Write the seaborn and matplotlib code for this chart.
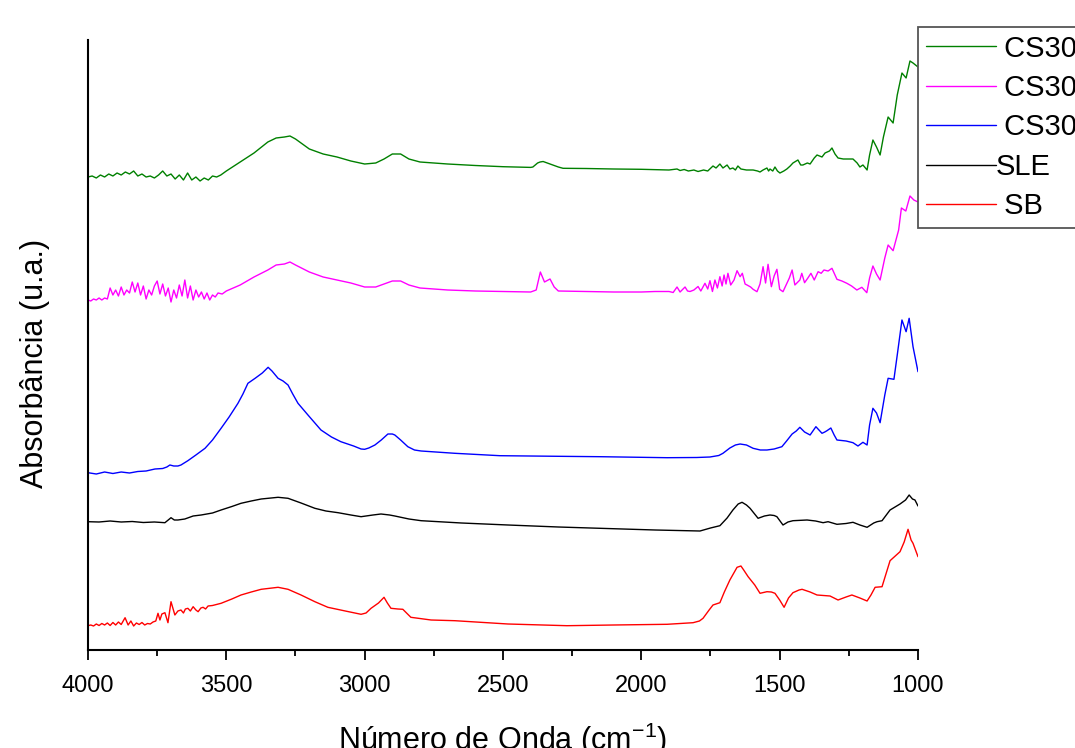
import numpy as np
import pandas as pd
import matplotlib
matplotlib.use("Agg")
import matplotlib.pyplot as plt
from matplotlib.lines import Line2D
import seaborn as sns

# ---------------- data (wavenumber in cm-1, absorbance in a.u.) ----------------
labels = [" CS30 A", " CS30 B", " CS30 C", "SLE", " SB"]
colors = ["#008000", "#FF00FF", "#0000FF", "#000000", "#FF0000"]

w_cs30a = [4000, 3985, 3970, 3955, 3940, 3925, 3910, 3895, 3880, 3865, 3850, 3835, 3820, 3805,
           3790, 3775, 3760, 3745, 3730, 3715, 3700, 3685, 3670, 3655, 3640, 3625, 3610, 3595,
           3580, 3565, 3550, 3535, 3520, 3500, 3450, 3400, 3350, 3320, 3290, 3270, 3250, 3200,
           3150, 3100, 3050, 3000, 2960, 2930, 2900, 2870, 2840, 2800, 2700, 2600, 2500, 2450,
           2400, 2392, 2375, 2366, 2355, 2340, 2330, 2300, 2283, 2200, 2100, 2000, 1900, 1871,
           1860, 1845, 1830, 1810, 1795, 1775, 1760, 1741, 1730, 1716, 1705, 1690, 1680, 1669,
           1660, 1651, 1640, 1620, 1596, 1580, 1571, 1560, 1546, 1540, 1535, 1525, 1517, 1508,
           1499, 1485, 1474, 1462, 1452, 1434, 1424, 1416, 1400, 1390, 1375, 1365, 1347, 1336,
           1320, 1311, 1300, 1289, 1270, 1250, 1235, 1220, 1210, 1199, 1184, 1175, 1163, 1150,
           1137, 1125, 1108, 1090, 1075, 1058, 1043, 1029, 1018, 1000]
a_cs30a = [4.73, 4.74, 4.72, 4.75, 4.73, 4.76, 4.74, 4.77, 4.75, 4.78, 4.76, 4.79, 4.74, 4.76,
           4.73, 4.74, 4.72, 4.75, 4.79, 4.74, 4.76, 4.71, 4.75, 4.70, 4.77, 4.70, 4.73, 4.69,
           4.72, 4.70, 4.74, 4.73, 4.75, 4.79, 4.88, 4.97, 5.08, 5.12, 5.13, 5.14, 5.11, 5.01,
           4.96, 4.93, 4.89, 4.86, 4.87, 4.91, 4.96, 4.96, 4.91, 4.88, 4.86, 4.845, 4.833, 4.83,
           4.826, 4.83, 4.87, 4.88, 4.885, 4.87, 4.86, 4.83, 4.817, 4.815, 4.81, 4.807, 4.80, 4.81,
           4.795, 4.805, 4.79, 4.80, 4.785, 4.80, 4.79, 4.84, 4.82, 4.86, 4.82, 4.85, 4.81, 4.82,
           4.80, 4.84, 4.81, 4.80, 4.80, 4.79, 4.78, 4.80, 4.82, 4.79, 4.81, 4.79, 4.83, 4.79,
           4.77, 4.79, 4.81, 4.84, 4.87, 4.90, 4.85, 4.85, 4.87, 4.86, 4.92, 4.95, 4.93, 4.97,
           4.99, 5.02, 4.96, 4.92, 4.91, 4.91, 4.91, 4.87, 4.83, 4.85, 4.80, 4.95, 5.10, 5.03,
           4.95, 5.13, 5.33, 5.27, 5.55, 5.77, 5.72, 5.89, 5.87, 5.83]

w_cs30b = [4000, 3990, 3980, 3970, 3960, 3950, 3940, 3930, 3920, 3910, 3900, 3890, 3880, 3870,
           3860, 3850, 3840, 3830, 3820, 3810, 3800, 3790, 3780, 3770, 3760, 3750, 3740, 3730,
           3720, 3710, 3700, 3690, 3680, 3670, 3660, 3650, 3640, 3630, 3620, 3610, 3600, 3590,
           3580, 3570, 3560, 3550, 3540, 3530, 3515, 3500, 3450, 3400, 3350, 3320, 3290, 3270,
           3250, 3200, 3150, 3100, 3050, 3000, 2960, 2930, 2900, 2870, 2840, 2800, 2700, 2600,
           2500, 2400, 2380, 2365, 2350, 2330, 2315, 2300, 2200, 2100, 2000, 1950, 1900, 1885,
           1871, 1860, 1842, 1833, 1824, 1810, 1795, 1785, 1770, 1760, 1752, 1743, 1734, 1725,
           1716, 1708, 1701, 1694, 1687, 1677, 1665, 1654, 1643, 1635, 1625, 1618, 1605, 1596,
           1582, 1571, 1560, 1551, 1542, 1530, 1520, 1510, 1500, 1488, 1475, 1465, 1455, 1445,
           1427, 1420, 1410, 1398, 1387, 1375, 1361, 1350, 1340, 1325, 1311, 1293, 1275, 1257,
           1240, 1221, 1203, 1185, 1175, 1163, 1150, 1137, 1120, 1108, 1090, 1070, 1060, 1044,
           1029, 1015, 1000]
a_cs30b = [3.50, 3.49, 3.51, 3.50, 3.52, 3.50, 3.52, 3.51, 3.62, 3.55, 3.60, 3.54, 3.63, 3.55,
           3.60, 3.57, 3.68, 3.58, 3.67, 3.55, 3.64, 3.51, 3.60, 3.55, 3.64, 3.69, 3.56, 3.66,
           3.54, 3.62, 3.48, 3.60, 3.52, 3.65, 3.54, 3.70, 3.52, 3.64, 3.50, 3.60, 3.53, 3.58,
           3.51, 3.57, 3.50, 3.55, 3.53, 3.57, 3.56, 3.59, 3.65, 3.73, 3.80, 3.85, 3.86, 3.88,
           3.85, 3.78, 3.73, 3.70, 3.67, 3.63, 3.63, 3.66, 3.69, 3.69, 3.65, 3.62, 3.60, 3.59,
           3.585, 3.58, 3.60, 3.78, 3.68, 3.71, 3.63, 3.59, 3.585, 3.58, 3.58, 3.585, 3.585, 3.575,
           3.63, 3.58, 3.63, 3.59, 3.585, 3.60, 3.635, 3.59, 3.667, 3.61, 3.693, 3.585, 3.70, 3.62,
           3.733, 3.64, 3.75, 3.66, 3.767, 3.65, 3.70, 3.793, 3.733, 3.767, 3.66, 3.65, 3.63, 3.607,
           3.583, 3.66, 3.833, 3.67, 3.857, 3.633, 3.74, 3.807, 3.607, 3.583, 3.66, 3.72, 3.80, 3.65,
           3.70, 3.767, 3.673, 3.72, 3.767, 3.70, 3.783, 3.767, 3.80, 3.79, 3.817, 3.707, 3.69, 3.667,
           3.64, 3.60, 3.627, 3.573, 3.72, 3.84, 3.76, 3.70, 3.92, 4.05, 3.993, 4.20, 4.42, 4.39,
           4.54, 4.50, 4.48]

w_cs30c = [4000, 3970, 3940, 3910, 3880, 3850, 3820, 3790, 3758, 3730, 3715, 3704, 3690, 3675,
           3664, 3639, 3610, 3577, 3550, 3519, 3490, 3458, 3440, 3422, 3396, 3370, 3349, 3335,
           3313, 3295, 3277, 3260, 3241, 3205, 3158, 3120, 3086, 3040, 3013, 3000, 2985, 2963,
           2940, 2916, 2900, 2891, 2870, 2844, 2820, 2796, 2674, 2511, 2300, 2149, 1907, 1800,
           1752, 1720, 1705, 1680, 1660, 1643, 1620, 1596, 1570, 1546, 1520, 1492, 1475, 1455,
           1440, 1427, 1410, 1390, 1369, 1347, 1337, 1329, 1315, 1303, 1293, 1260, 1235, 1217,
           1199, 1184, 1175, 1163, 1150, 1137, 1120, 1108, 1087, 1075, 1058, 1043, 1032, 1018,
           1000]
a_cs30c = [1.773, 1.76, 1.78, 1.765, 1.78, 1.77, 1.785, 1.79, 1.81, 1.815, 1.83, 1.85, 1.84, 1.84,
           1.85, 1.893, 1.95, 2.017, 2.10, 2.217, 2.33, 2.467, 2.56, 2.667, 2.717, 2.77, 2.827, 2.79,
           2.717, 2.69, 2.65, 2.56, 2.467, 2.35, 2.20, 2.13, 2.083, 2.04, 2.01, 2.007, 2.02, 2.05,
           2.10, 2.16, 2.16, 2.15, 2.10, 2.033, 2.00, 1.99, 1.967, 1.943, 1.937, 1.933, 1.923, 1.925,
           1.93, 1.945, 1.967, 2.02, 2.05, 2.06, 2.05, 2.017, 2.00, 2.00, 2.01, 2.033, 2.09, 2.16,
           2.19, 2.227, 2.18, 2.15, 2.233, 2.167, 2.18, 2.193, 2.22, 2.15, 2.10, 2.09, 2.073, 2.04,
           2.077, 2.05, 2.25, 2.417, 2.37, 2.273, 2.55, 2.717, 2.707, 2.95, 3.30, 3.183, 3.317, 3.033,
           2.783]

w_sle = [4000, 3960, 3920, 3880, 3840, 3800, 3760, 3722, 3710, 3700, 3688, 3675, 3650, 3620,
         3591, 3550, 3519, 3480, 3447, 3410, 3374, 3313, 3277, 3230, 3180, 3140, 3096, 3050,
         3013, 2970, 2941, 2910, 2891, 2840, 2796, 2650, 2482, 2300, 2149, 1950, 1788, 1750,
         1716, 1690, 1669, 1650, 1636, 1620, 1607, 1578, 1555, 1535, 1520, 1510, 1488, 1470,
         1452, 1401, 1370, 1343, 1325, 1293, 1260, 1235, 1210, 1184, 1160, 1148, 1130, 1101,
         1065, 1045, 1032, 1020, 1011, 1000]
a_sle = [1.283, 1.28, 1.29, 1.28, 1.285, 1.275, 1.28, 1.273, 1.30, 1.323, 1.30, 1.30, 1.31, 1.34,
         1.35, 1.37, 1.40, 1.435, 1.467, 1.49, 1.51, 1.527, 1.517, 1.47, 1.417, 1.39, 1.373, 1.35,
         1.333, 1.35, 1.36, 1.35, 1.34, 1.31, 1.293, 1.27, 1.25, 1.23, 1.217, 1.20, 1.19, 1.22,
         1.243, 1.32, 1.40, 1.46, 1.477, 1.45, 1.417, 1.317, 1.34, 1.35, 1.345, 1.333, 1.25, 1.28,
         1.293, 1.30, 1.29, 1.273, 1.283, 1.257, 1.265, 1.277, 1.25, 1.227, 1.27, 1.283, 1.293, 1.40,
         1.46, 1.50, 1.55, 1.51, 1.50, 1.44]

w_sb = [4000, 3990, 3980, 3970, 3960, 3950, 3940, 3930, 3920, 3910, 3900, 3890, 3880, 3866,
        3855, 3845, 3835, 3825, 3815, 3805, 3795, 3785, 3775, 3765, 3755, 3747, 3740, 3733,
        3722, 3711, 3700, 3686, 3675, 3664, 3655, 3648, 3639, 3630, 3620, 3610, 3602, 3592,
        3584, 3575, 3566, 3550, 3519, 3480, 3447, 3410, 3374, 3313, 3277, 3230, 3180, 3133,
        3070, 3013, 2995, 2977, 2950, 2930, 2918, 2905, 2880, 2862, 2845, 2833, 2760, 2674,
        2482, 2269, 2100, 1907, 1813, 1790, 1777, 1755, 1741, 1716, 1700, 1680, 1654, 1640,
        1630, 1614, 1590, 1571, 1546, 1530, 1517, 1500, 1484, 1468, 1452, 1430, 1419, 1390,
        1365, 1318, 1289, 1260, 1239, 1210, 1184, 1170, 1155, 1130, 1101, 1065, 1050, 1036,
        1025, 1018, 1000]
a_sb = [0.243, 0.25, 0.24, 0.26, 0.245, 0.265, 0.25, 0.27, 0.245, 0.275, 0.25, 0.28, 0.255, 0.323,
        0.25, 0.29, 0.24, 0.27, 0.255, 0.275, 0.25, 0.265, 0.26, 0.28, 0.29, 0.367, 0.30, 0.36,
        0.373, 0.273, 0.483, 0.35, 0.39, 0.40, 0.37, 0.41, 0.417, 0.39, 0.433, 0.40, 0.383, 0.42,
        0.427, 0.41, 0.44, 0.445, 0.467, 0.51, 0.55, 0.58, 0.607, 0.627, 0.607, 0.55, 0.483, 0.427,
        0.39, 0.357, 0.37, 0.417, 0.47, 0.527, 0.47, 0.417, 0.41, 0.407, 0.36, 0.327, 0.30, 0.293,
        0.26, 0.243, 0.25, 0.257, 0.273, 0.29, 0.317, 0.40, 0.45, 0.473, 0.58, 0.70, 0.827, 0.84,
        0.80, 0.733, 0.65, 0.567, 0.583, 0.58, 0.567, 0.50, 0.427, 0.52, 0.573, 0.60, 0.607, 0.58,
        0.55, 0.54, 0.50, 0.53, 0.55, 0.52, 0.49, 0.55, 0.627, 0.633, 0.893, 0.983, 1.08, 1.207,
        1.10, 1.067, 0.933]

x_ticks = [4000, 3500, 3000, 2500, 2000, 1500, 1000]

# ---------------- build table ----------------
series = [(w_cs30a, a_cs30a), (w_cs30b, a_cs30b), (w_cs30c, a_cs30c), (w_sle, a_sle), (w_sb, a_sb)]
frames = []
for lab, (w, a) in zip(labels, series):
    frames.append(pd.DataFrame({"w": w, "a": a, "amostra": lab}))
df = pd.concat(frames, ignore_index=True)

# ---------------- style ----------------
sns.set_theme(style="ticks")
plt.rcParams["font.family"] = ["Liberation Sans", "DejaVu Sans"]
plt.rcParams["mathtext.fontset"] = "custom"
plt.rcParams["mathtext.rm"] = "Liberation Sans"
plt.rcParams["mathtext.it"] = "Liberation Sans:italic"
plt.rcParams["mathtext.bf"] = "Liberation Sans:bold"
plt.rcParams["text.color"] = "black"
plt.rcParams["axes.labelcolor"] = "black"
plt.rcParams["xtick.color"] = "black"
plt.rcParams["xtick.labelcolor"] = "black"

fig = plt.figure(figsize=(10.75, 7.48), dpi=100)
ax = fig.add_axes([88 / 1075, 1 - 650 / 748, 830 / 1075, 610 / 748])

sns.lineplot(data=df, x="w", y="a", hue="amostra", hue_order=labels,
             palette=dict(zip(labels, colors)), estimator=None, sort=False,
             linewidth=1.0, legend=False, ax=ax)

ax.set_xlim(4000, 1000)
ax.set_ylim(0, 6.1)
ax.set_xticks(x_ticks)
ax.set_xticks([3750, 3250, 2750, 2250, 1750, 1250], minor=True)
ax.set_xticklabels([str(t) for t in x_ticks])
ax.set_yticks([])
ax.tick_params(axis="x", which="major", direction="out", length=7, width=1.3,
               labelsize=17, pad=11, colors="black")
ax.tick_params(axis="x", which="minor", direction="out", length=4, width=1.3)
for side in ["top", "right"]:
    ax.spines[side].set_visible(False)
for side in ["left", "bottom"]:
    ax.spines[side].set_linewidth(1.5)
    ax.spines[side].set_color("black")

ax.set_xlabel("Número de Onda (cm$^{-1}$)", fontsize=22, labelpad=17, color="black")
ax.set_ylabel("Absorbância (u.a.)", fontsize=22, color="black")
ax.yaxis.set_label_coords(-0.046, 0.469)

handles = [Line2D([], [], color=c, lw=1.0) for c in colors]
leg = ax.legend(handles, labels, loc="upper left",
                bbox_to_anchor=(918 / 1075, 1 - 27 / 748), bbox_transform=fig.transFigure,
                borderaxespad=0, fontsize=21, frameon=True, fancybox=False,
                handlelength=2.4, handletextpad=0.0, borderpad=0.26, labelspacing=0.39)
leg.get_frame().set_edgecolor("#555555")
leg.get_frame().set_linewidth(1.3)
leg.get_frame().set_alpha(1)
for t in leg.get_texts():
    t.set_color("black")

fig.savefig("out.png", dpi=100)
